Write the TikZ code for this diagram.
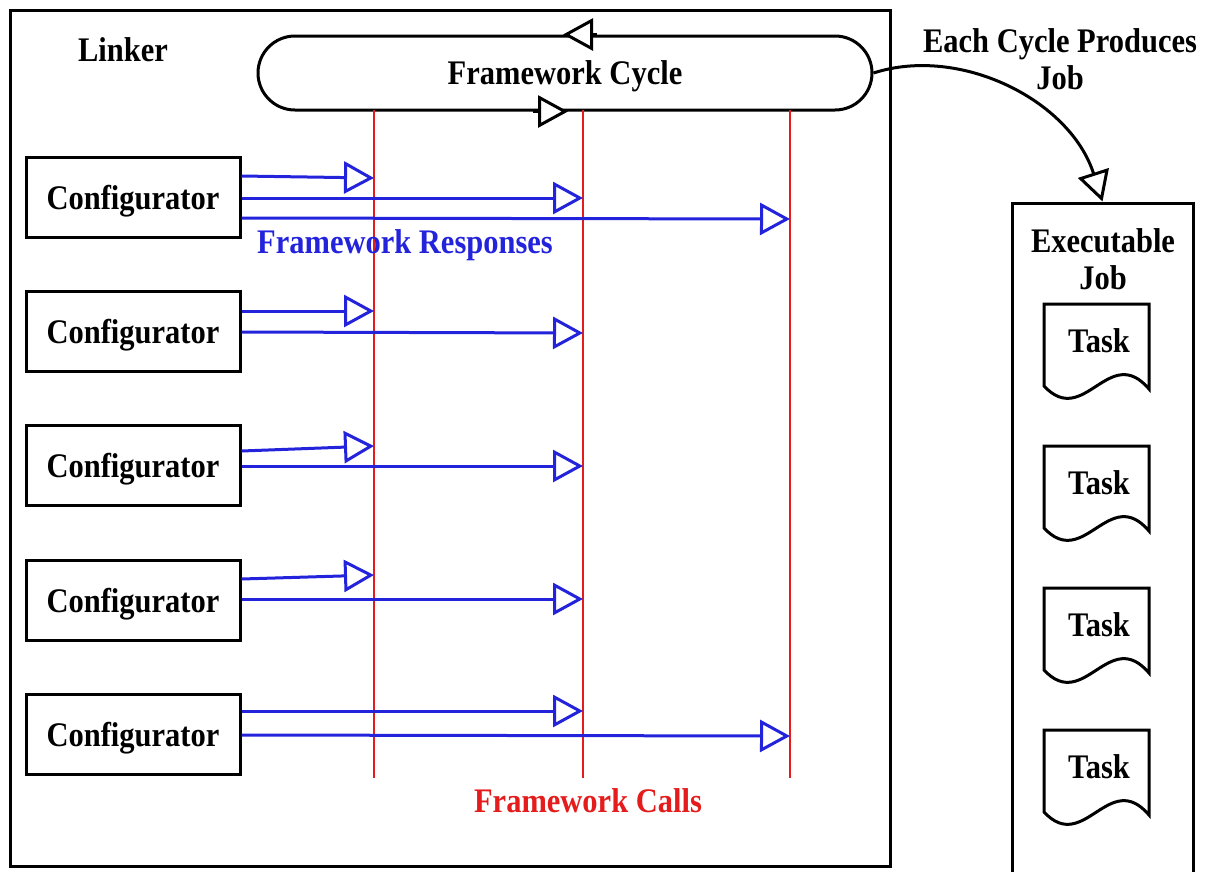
\documentclass[tikz,border=0pt]{standalone}
\usepackage{fontspec}
\setmainfont{Liberation Serif}
\usetikzlibrary{arrows.meta,calc}
\definecolor{resblue}{RGB}{35,35,220}
\definecolor{callred}{RGB}{228,28,28}
\newcommand{\tall}[1]{\scalebox{1}[1.13]{#1}}
\begin{document}
\begin{tikzpicture}[x=1pt,y=-1pt,
  txt/.style={font=\fontsize{30.5}{37}\selectfont\bfseries, inner sep=0pt, align=center, text depth=0pt},
  frame/.style={draw, line width=3pt, inner sep=0pt},
  cfg/.style={draw, line width=3pt, minimum width=214pt, minimum height=80pt, inner sep=0pt, txt},
  call/.style={draw=callred, line width=2.5pt},
  resp/.style={draw=resblue, line width=3pt, -{Triangle[length=30pt,width=32pt,fill=white]}},
  cyc/.style={draw=black, line width=3pt, -{Triangle[length=30pt,width=32pt,fill=white]}},
  docshape/.pic={\draw[line width=3pt, fill=white] (0,0) -- (105,0) -- (105,85) .. controls (65,38) and (40,125) .. (0,82) -- cycle;}
]
\useasboundingbox (0,0) rectangle (1206,871);
% outer linker frame
\node[frame, minimum width=880pt, minimum height=856pt] (linker) at (450,438) {};
\node[txt] (linkerlbl) at (123,50) {\tall{Linker}};
% framework cycle
\node[frame, rounded corners=37pt, minimum width=614pt, minimum height=74pt, txt] (cycle) at (565,73) {\tall{Framework Cycle}};
\draw[cyc] ([xshift=32pt]cycle.north) -- ([xshift=-2pt]cycle.north);
\draw[cyc] ([xshift=-32pt]cycle.south) -- ([xshift=3pt]cycle.south);
% framework call lines
\coordinate (l1) at (374,110);
\coordinate (l2) at (583,110);
\coordinate (l3) at (790,110);
\coordinate (m1) at (374,778);
\coordinate (m2) at (583,778);
\coordinate (m3) at (790,778);
\draw[call] (l1) -- (m1);
\draw[call] (l2) -- (m2);
\draw[call] (l3) -- (m3);
% configurators
\node[cfg] (c1) at (133,197) {\tall{Configurator}};
\node[cfg] (c2) at (133,331) {\tall{Configurator}};
\node[cfg] (c3) at (133,465) {\tall{Configurator}};
\node[cfg] (c4) at (133,600) {\tall{Configurator}};
\node[cfg] (c5) at (133,734) {\tall{Configurator}};
% responses
\draw[resp] (c1.east |- 0,176) -- (l1 |- 0,178);
\draw[resp] (c1.east |- 0,198) -- (l2 |- 0,198);
\draw[resp] (c1.east |- 0,218) -- (l3 |- 0,219);
\draw[resp] (c2.east |- 0,311) -- (l1 |- 0,311);
\draw[resp] (c2.east |- 0,332) -- (l2 |- 0,333);
\draw[resp] (c3.east |- 0,451) -- (l1 |- 0,446);
\draw[resp] (c3.east |- 0,466) -- (l2 |- 0,466);
\draw[resp] (c4.east |- 0,579) -- (l1 |- 0,575);
\draw[resp] (c4.east |- 0,599) -- (l2 |- 0,599);
\draw[resp] (c5.east |- 0,711) -- (l2 |- 0,711);
\draw[resp] (c5.east |- 0,735) -- (l3 |- 0,736);
\node[txt, text=resblue] (resplbl) at (405,242) {\tall{Framework Responses}};
\node[txt, text=callred] (calllbl) at (588,801) {\tall{Framework Calls}};
% executable job
\node[frame, minimum width=181pt, minimum height=700pt] (exec) at (1102.5,553) {};
\node[txt] (execlbl) at (1103,259) {\tall{Executable}\\\tall{Job}};
\node[txt] (produces) at (1060,59) {\tall{Each Cycle Produces}\\\tall{Job}};
\draw[cyc] (cycle.east) .. controls (960,45) and (1070,100) .. (exec.north);
% tasks
\pic (d1) at (1044,304) {docshape};
\pic (d2) at (1044,446) {docshape};
\pic (d3) at (1044,588) {docshape};
\pic (d4) at (1044,730) {docshape};
\node[txt] (t1) at (1099,341) {\tall{Task}};
\node[txt] (t2) at (1099,483) {\tall{Task}};
\node[txt] (t3) at (1099,625) {\tall{Task}};
\node[txt] (t4) at (1099,767) {\tall{Task}};
\end{tikzpicture}
\end{document}
